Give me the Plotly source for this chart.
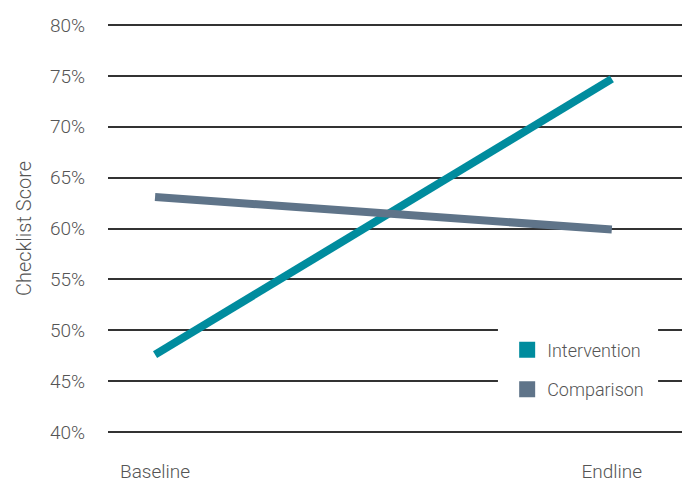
import plotly.graph_objects as go

categories = ["Baseline", "Endline"]
x_pos = [0, 1]
intervention = [47.6, 74.7]
comparison = [63.1, 59.9]
y_ticks = [40, 45, 50, 55, 60, 65, 70, 75, 80]
y_tick_labels = [f"{v}%" for v in y_ticks]

teal = "#008C9E"
slate = "#5F7489"
font_family = "Roboto, Liberation Sans, sans-serif"

fig = go.Figure()
fig.add_trace(go.Scatter(x=x_pos, y=intervention, mode="lines",
                         line=dict(color=teal, width=8), showlegend=False))
fig.add_trace(go.Scatter(x=x_pos, y=comparison, mode="lines",
                         line=dict(color=slate, width=8), showlegend=False))
for name, col in [("Intervention", teal), ("Comparison", slate)]:
    fig.add_trace(go.Scatter(x=[None], y=[None], mode="markers", name=name,
                             legendgroup=name,
                             marker=dict(symbol="square", size=16, color=col)))

# white panel behind the legend (hides the gridlines there, as in the reference)
fig.add_shape(type="rect", xref="x domain", yref="y domain",
              x0=0.677, x1=0.955, y0=0.068, y1=0.271,
              fillcolor="white", line=dict(width=0), layer="above")

fig.update_layout(
    width=682, height=475,
    margin=dict(l=100, r=6, t=16, b=50),
    paper_bgcolor="white", plot_bgcolor="white",
    font=dict(family=font_family, color="#555555", size=19, weight=300),
    legend=dict(x=0.693, y=0.248, xanchor="left", yanchor="top",
                bgcolor="rgba(0,0,0,0)", tracegroupgap=13,
                font=dict(size=18, color="#555555", weight=300),
                itemsizing="trace"),
    xaxis=dict(range=[-0.103, 1.158], tickvals=x_pos, ticktext=categories,
               showgrid=False, zeroline=False, showline=False,
               ticks="", ticklabelstandoff=25, fixedrange=True,
               automargin=False),
    yaxis=dict(range=[39.9, 80.1], tickvals=y_ticks, ticktext=y_tick_labels,
               showgrid=True, gridcolor="#333333", gridwidth=1.5,
               zeroline=False, showline=False, ticks="",
               ticklabelstandoff=22, automargin=False,
               title=dict(text="Checklist Score", font=dict(size=20), standoff=12)),
)

fig.write_html("out.html")
